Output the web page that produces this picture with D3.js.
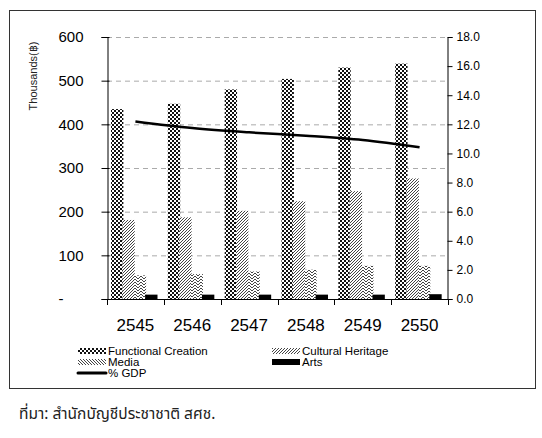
<!DOCTYPE html>
<html>
<head>
<meta charset="utf-8">
<script src="https://cdn.jsdelivr.net/npm/d3@7"></script>
<style>
  body { margin: 0; background: #fff; }
  svg text { font-family: "Liberation Sans", Arial, sans-serif; }
</style>
</head>
<body>
<svg id="chart" width="542" height="438"></svg>
<script>
const years = ['2545', '2546', '2547', '2548', '2549', '2550']
const functionalCreation = [435, 447, 480, 504, 530, 539]
const culturalHeritage = [181, 187, 202, 224, 247, 276]
const media = [54, 57, 63, 67, 76, 76]
const arts = [10, 10, 10, 10, 10, 11]
const gdpShare = [12.2, 11.75, 11.45, 11.22, 10.92, 10.42]
const leftTicks = [0, 100, 200, 300, 400, 500, 600]
const rightTicks = [0, 2, 4, 6, 8, 10, 12, 14, 16, 18]

const seriesNames = ['Functional Creation', 'Cultural Heritage', 'Media', 'Arts']
const seriesValues = [functionalCreation, culturalHeritage, media, arts]

let svg = d3.select('#chart')

// patterns for the bar fills
let defs = svg.append('defs')

let checker = defs.append('pattern')
    .attr('id', 'checker')
    .attr('patternUnits', 'userSpaceOnUse')
    .attr('width', 4).attr('height', 4)
checker.append('rect').attr('width', 4).attr('height', 4).attr('fill', '#fff')
checker.append('rect').attr('width', 2).attr('height', 2).attr('fill', '#111')
checker.append('rect').attr('x', 2).attr('y', 2).attr('width', 2).attr('height', 2).attr('fill', '#111')

let diag = defs.append('pattern')
    .attr('id', 'diag')
    .attr('patternUnits', 'userSpaceOnUse')
    .attr('width', 3).attr('height', 3)
diag.append('rect').attr('width', 3).attr('height', 3).attr('fill', '#fff')
diag.append('path').attr('d', 'M-1,1 L1,-1 M0,3 L3,0 M2,4 L4,2')
    .attr('stroke', '#444').attr('stroke-width', 1)

let zig = defs.append('pattern')
    .attr('id', 'zig')
    .attr('patternUnits', 'userSpaceOnUse')
    .attr('width', 6).attr('height', 3)
zig.append('rect').attr('width', 6).attr('height', 3).attr('fill', '#fff')
zig.append('path').attr('d', 'M0,3 L3,0 L6,3')
    .attr('fill', 'none').attr('stroke', '#444').attr('stroke-width', 1)

let back = defs.append('pattern')
    .attr('id', 'back')
    .attr('patternUnits', 'userSpaceOnUse')
    .attr('width', 3).attr('height', 3)
back.append('rect').attr('width', 3).attr('height', 3).attr('fill', '#fff')
back.append('path').attr('d', 'M-1,2 L1,4 M0,0 L3,3 M2,-1 L4,1')
    .attr('stroke', '#444').attr('stroke-width', 1)

const fills = ['url(#checker)', 'url(#diag)', 'url(#zig)', '#000']
const legendFills = ['url(#checker)', 'url(#diag)', 'url(#back)', '#000']

// outer frame
svg.append('rect')
    .attr('x', 9.5).attr('y', 10.5)
    .attr('width', 526).attr('height', 378)
    .attr('fill', 'none').attr('stroke', '#333').attr('stroke-width', 1)

const plot = { left: 107, right: 448, top: 37, bottom: 299 }

let x = d3.scaleBand()
    .domain(years)
    .range([plot.left, plot.right])

let xInner = d3.scaleBand()
    .domain(seriesNames)
    .range([4.5, 50])

let yLeft = d3.scaleLinear()
    .domain([0, 600])
    .range([plot.bottom, plot.top])

let yRight = d3.scaleLinear()
    .domain([0, 18])
    .range([plot.bottom, plot.top])

// dashed gridlines
svg.append('g')
    .selectAll('line')
    .data(leftTicks.filter(d => d > 0))
    .enter()
    .append('line')
    .attr('x1', plot.left).attr('x2', plot.right)
    .attr('y1', d => yLeft(d) + 0.5).attr('y2', d => yLeft(d) + 0.5)
    .attr('stroke', '#aaa')
    .attr('stroke-dasharray', '5,4')

// bars
seriesNames.forEach((name, i) => {
    svg.append('g')
        .selectAll('rect')
        .data(seriesValues[i])
        .enter()
        .append('rect')
        .attr('x', (d, j) => x(years[j]) + xInner(name) - 0.5)
        .attr('width', xInner.bandwidth() + 1)
        .attr('y', d => yLeft(d))
        .attr('height', d => plot.bottom - yLeft(d))
        .attr('fill', fills[i])
})

// % GDP line
let line = d3.line()
    .x((d, j) => x(years[j]) + x.bandwidth() / 2)
    .y(d => yRight(d))
    .curve(d3.curveMonotoneX)

svg.append('path')
    .datum(gdpShare)
    .attr('d', line)
    .attr('fill', 'none')
    .attr('stroke', '#000')
    .attr('stroke-width', 2.5)

// left axis
let leftAxis = d3.axisLeft(yLeft)
    .tickValues(leftTicks)
    .tickSize(6)
    .tickFormat(d => d === 0 ? '-' : d)

let gl = svg.append('g')
    .attr('transform', 'translate(' + (plot.left + 0.5) + ',0)')
    .call(leftAxis)
gl.select('.domain').attr('stroke', '#000')
gl.selectAll('.tick line').attr('x2', -6).attr('x1', 2).attr('stroke', '#000')
gl.selectAll('.tick text')
    .attr('font-size', 15)
    .attr('fill', '#000')
    .attr('x', d => d === 0 ? -44 : -24)

// right axis
let rightAxis = d3.axisRight(yRight)
    .tickValues(rightTicks)
    .tickSize(5)
    .tickPadding(4)
    .tickFormat(d3.format('.1f'))

let gr = svg.append('g')
    .attr('transform', 'translate(' + (plot.right - 0.5) + ',0)')
    .call(rightAxis)
gr.select('.domain').attr('stroke', '#000')
gr.selectAll('.tick line').attr('stroke', '#000')
gr.selectAll('.tick text').attr('font-size', 12).attr('fill', '#000')

// bottom axis: ticks at category edges
svg.append('line')
    .attr('x1', plot.left).attr('x2', plot.right)
    .attr('y1', plot.bottom + 0.5).attr('y2', plot.bottom + 0.5)
    .attr('stroke', '#000')

let edges = years.map(d => x(d)).concat([plot.right])
svg.append('g')
    .selectAll('line')
    .data(edges)
    .enter()
    .append('line')
    .attr('x1', d => Math.round(d) + 0.5).attr('x2', d => Math.round(d) + 0.5)
    .attr('y1', plot.bottom).attr('y2', plot.bottom + 6)
    .attr('stroke', '#000')

svg.append('g')
    .selectAll('text')
    .data(years)
    .enter()
    .append('text')
    .attr('x', d => x(d) + x.bandwidth() / 2)
    .attr('y', 331)
    .attr('text-anchor', 'middle')
    .attr('font-size', 17)
    .text(d => d)

// axis title
svg.append('text')
    .attr('transform', 'translate(37,76) rotate(-90)')
    .attr('text-anchor', 'middle')
    .attr('font-size', 11)
    .attr('fill', '#222')
    .text('Thousands(฿)')

// legend
const legendItems = [
    { name: 'Functional Creation', fill: legendFills[0], x: 78, y: 351 },
    { name: 'Cultural Heritage', fill: legendFills[1], x: 272, y: 351 },
    { name: 'Media', fill: legendFills[2], x: 78, y: 362 },
    { name: 'Arts', fill: legendFills[3], x: 272, y: 362 }
]

let legend = svg.append('g')
legendItems.forEach(item => {
    legend.append('rect')
        .attr('x', item.x).attr('y', item.y - 3)
        .attr('width', 28).attr('height', 6)
        .attr('fill', item.fill)
    legend.append('text')
        .attr('x', item.x + 30).attr('y', item.y + 4)
        .attr('font-size', 11.5)
        .text(item.name)
})
legend.append('line')
    .attr('x1', 78).attr('x2', 106)
    .attr('y1', 373).attr('y2', 373)
    .attr('stroke', '#000').attr('stroke-width', 3)
    .attr('stroke-linecap', 'round')
legend.append('text')
    .attr('x', 108).attr('y', 377)
    .attr('font-size', 11.5)
    .text('% GDP')

// source note
svg.append('text')
    .attr('x', 19).attr('y', 419)
    .attr('font-size', 15.5)
    .attr('fill', '#222')
    .style('font-family', 'Tahoma, "Noto Sans Thai", "Noto Sans", sans-serif')
    .text('ที่มา: สำนักบัญชีประชาชาติ สศช.')
</script>
</body>
</html>
